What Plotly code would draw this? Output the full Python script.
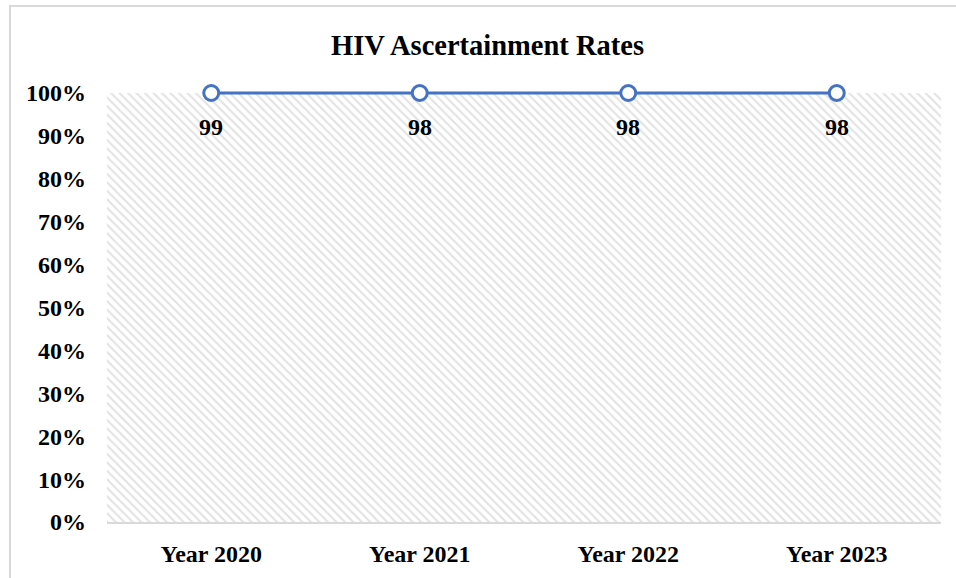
import plotly.graph_objects as go

# Data
years = ["Year 2020", "Year 2021", "Year 2022", "Year 2023"]
rates = [99, 98, 98, 98]          # ascertainment rate labels (%)
y_ticks = [0, 0.1, 0.2, 0.3, 0.4, 0.5, 0.6, 0.7, 0.8, 0.9, 1.0]
axis_max = 1.0

# values exceed the 0-100% axis (stored as whole numbers), so they sit at the top, as in the source
plot_y = [min(v, axis_max) for v in rates]

FONT = "Liberation Serif"

# layout geometry: 0% at y=522px, 100% at y=93px; extra headroom so the line isn't clipped
H = 578
top_px, bottom_px, target_top = 72, 56, 93
px_per_unit = H - bottom_px - target_top
y_top = axis_max + (target_top - top_px) / px_per_unit
plot_h = H - top_px - bottom_px
border_top_paper = (H - bottom_px - 6) / plot_h

fig = go.Figure()

# hatched plot-area background (base axis, drawn underneath)
fig.add_trace(go.Bar(
    x=[0], y=[axis_max], width=[1], base=[0],
    xaxis="x", yaxis="y",
    marker=dict(color="white", line=dict(width=0),
                pattern=dict(shape="\\", fgcolor="#c6c6c6", bgcolor="white",
                             size=6, solidity=0.35)),
    hoverinfo="skip", showlegend=False,
))

fig.add_trace(go.Scatter(
    x=years, y=plot_y,
    xaxis="x2", yaxis="y",
    mode="lines+markers",
    line=dict(color="#4472C4", width=3),
    marker=dict(size=15, color="white", line=dict(color="#4472C4", width=3)),
    cliponaxis=False,
    showlegend=False,
))

annotations = [
    dict(x=yr, y=yv, xref="x2", yref="y", text=f"<b>{v}</b>", showarrow=False,
         yshift=-34, font=dict(family=FONT, size=24, color="black"))
    for yr, yv, v in zip(years, plot_y, rates)
]

fig.update_layout(
    width=956, height=H,
    margin=dict(l=107, r=15, t=top_px, b=bottom_px),
    paper_bgcolor="white",
    plot_bgcolor="white",
    title=dict(text="<b>HIV Ascertainment Rates</b>", x=0.51, xanchor="center",
               y=0.922, yanchor="middle",
               font=dict(family=FONT, size=28.5, color="black")),
    xaxis=dict(range=[-0.5, 0.5], visible=False, fixedrange=True),
    xaxis2=dict(
        overlaying="x", type="category", range=[-0.5, 3.5],
        showgrid=False, showline=True, linecolor="#d9d9d9", linewidth=2,
        ticks="", tickfont=dict(family=FONT, size=24, color="black", weight="bold"),
        ticklabelstandoff=9, zeroline=False, side="bottom",
    ),
    yaxis=dict(
        range=[0, y_top], tickvals=y_ticks, tickformat=".0%",
        showgrid=False, showline=False, zeroline=False, ticks="",
        tickfont=dict(family=FONT, size=24, color="black", weight="bold"),
        ticklabelstandoff=20,
    ),
    annotations=annotations,
    shapes=[dict(type="rect", xref="paper", x0=-0.1163, x1=1.2,
                 yref="paper", y0=-0.3, y1=border_top_paper,
                 line=dict(color="#d9d9d9", width=2), fillcolor="rgba(0,0,0,0)",
                 layer="below")],
    bargap=0,
)

fig.write_html("out.html")
